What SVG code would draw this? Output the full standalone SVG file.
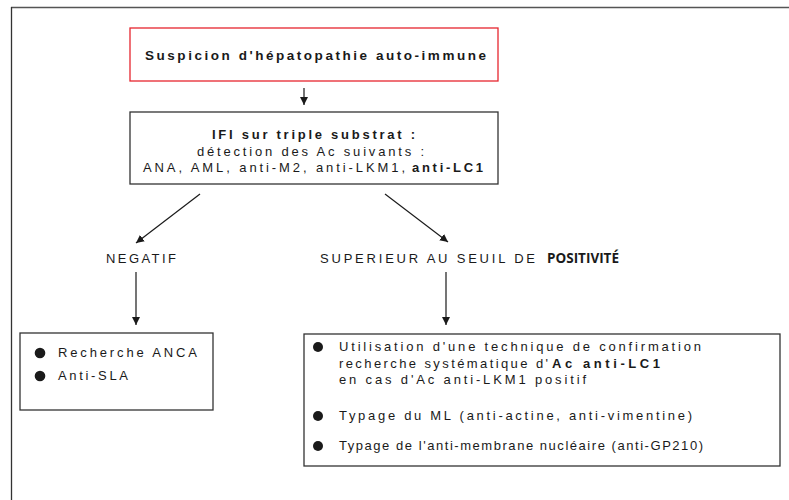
<svg xmlns="http://www.w3.org/2000/svg" width="789" height="500" viewBox="0 0 789 500">
<defs>
<style>
text{font-family:"Liberation Sans",Arial,Helvetica,sans-serif;font-size:13px;fill:#1a1a1a}
.b{font-weight:bold}
.t{font-size:13.5px;font-weight:bold}
.pos{font-family:"Open Sans","Liberation Sans",sans-serif;font-weight:bold;font-size:13.5px}
.box{fill:#fff;stroke:#333;stroke-width:1.3}
.red{fill:#fff;stroke:#e6262e;stroke-width:1.3}
.con{stroke:#1a1a1a;stroke-width:1.2;fill:none;marker-end:url(#ah)}
.dot{fill:#1a1a1a}
</style>
<marker id="ah" viewBox="0 0 10 10" refX="10" refY="5" markerWidth="8" markerHeight="8" markerUnits="userSpaceOnUse" orient="auto">
<path d="M0,0 L10,5 L0,10 z" fill="#1a1a1a"/>
</marker>
</defs>
<rect width="789" height="500" fill="#fff"/>
<g id="frame">
<line x1="11" y1="7.5" x2="789" y2="7.5" stroke="#555" stroke-width="1.5"/>
<line x1="11.5" y1="7" x2="11.5" y2="500" stroke="#333" stroke-width="1.3"/>
</g>
<g id="n-suspicion">
<rect class="red" x="130" y="28" width="368" height="53"/>
<text class="t" x="145" y="60" textLength="341" lengthAdjust="spacing">Suspicion d'hépatopathie auto-immune</text>
</g>
<g id="n-ifi">
<rect class="box" x="130" y="112" width="368" height="72"/>
<text class="b" x="212" y="139" textLength="203" lengthAdjust="spacing">IFI sur triple substrat :</text>
<text x="197" y="156" textLength="227" lengthAdjust="spacing">détection des Ac suivants :</text>
<text x="143" y="172" textLength="262" lengthAdjust="spacing">ANA, AML, anti-M2, anti-LKM1,</text>
<text class="b" x="412" y="172" textLength="71" lengthAdjust="spacing">anti-LC1</text>
</g>
<g id="n-negatif">
<text x="106" y="263" textLength="70" lengthAdjust="spacing">NEGATIF</text>
</g>
<g id="n-positif">
<text x="320" y="263" textLength="215" lengthAdjust="spacing">SUPERIEUR AU SEUIL DE</text>
<text class="pos" x="547" y="263" textLength="72" lengthAdjust="spacingAndGlyphs">POSITIVITÉ</text>
</g>
<g id="n-left">
<rect class="box" x="20" y="333" width="193" height="77"/>
<circle class="dot" cx="40" cy="353" r="5.3"/>
<text x="58" y="357" textLength="139" lengthAdjust="spacing">Recherche ANCA</text>
<circle class="dot" cx="40" cy="376" r="5.3"/>
<text x="58" y="380" textLength="70" lengthAdjust="spacing">Anti-SLA</text>
</g>
<g id="n-right">
<rect class="box" x="304" y="334" width="476" height="132"/>
<circle class="dot" cx="318" cy="347" r="5"/>
<text x="339" y="351" textLength="362" lengthAdjust="spacing">Utilisation d'une technique de confirmation</text>
<text x="339" y="368" textLength="209" lengthAdjust="spacing">recherche systématique d'</text>
<text class="b" x="552" y="368" textLength="108" lengthAdjust="spacing">Ac anti-LC1</text>
<text x="339" y="384" textLength="247" lengthAdjust="spacing">en cas d'Ac anti-LKM1 positif</text>
<circle class="dot" cx="318" cy="416" r="5"/>
<text x="339" y="420" textLength="353" lengthAdjust="spacing">Typage du ML (anti-actine, anti-vimentine)</text>
<circle class="dot" cx="318" cy="446" r="5"/>
<text x="339" y="450" textLength="364" lengthAdjust="spacing">Typage de l'anti-membrane nucléaire (anti-GP210)</text>
</g>
<g id="connectors">
<line class="con" x1="304" y1="88" x2="304" y2="105"/>
<line class="con" x1="200" y1="194" x2="136" y2="243"/>
<line class="con" x1="385" y1="194" x2="448" y2="242"/>
<line class="con" x1="136" y1="272" x2="136" y2="325"/>
<line class="con" x1="446" y1="272" x2="446" y2="325"/>
</g>
</svg>
